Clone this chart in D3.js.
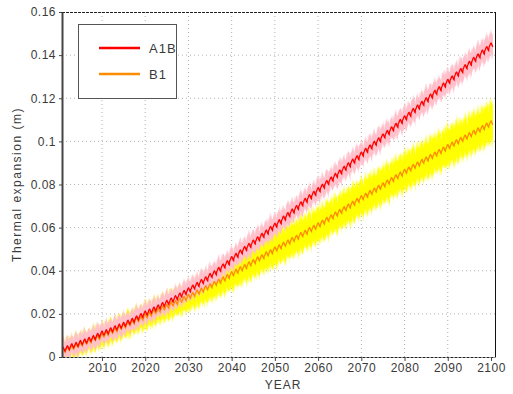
<!DOCTYPE html>
<html>
<head>
<meta charset="utf-8">
<script src="https://cdn.jsdelivr.net/npm/d3@7"></script>
<style>
  body { margin: 0; background: #fff; }
  text { font-family: "Liberation Sans", Arial, sans-serif; fill: #3a3a3a; letter-spacing: 0.5px; }
</style>
</head>
<body>
<div id="chart"></div>
<script>
// first year of the yearly series
var firstYear = 2001

// yearly mean thermal expansion (m)
var a1bMean = [
  0.0035,0.0042,0.0051,0.0057,0.0066,0.0073,0.0081,0.0089,0.0099,0.0110,
  0.0116,0.0125,0.0134,0.0142,0.0150,0.0160,0.0169,0.0180,0.0191,0.0203,
  0.0212,0.0221,0.0231,0.0242,0.0252,0.0263,0.0274,0.0286,0.0298,0.0310,
  0.0323,0.0335,0.0349,0.0361,0.0377,0.0389,0.0405,0.0421,0.0436,0.0455,
  0.0470,0.0486,0.0502,0.0516,0.0532,0.0547,0.0563,0.0578,0.0595,0.0610,
  0.0626,0.0643,0.0659,0.0676,0.0692,0.0709,0.0725,0.0742,0.0758,0.0775,
  0.0791,0.0808,0.0824,0.0841,0.0857,0.0874,0.0890,0.0907,0.0923,0.0940,
  0.0957,0.0973,0.0990,0.1006,0.1024,0.1040,0.1057,0.1073,0.1091,0.1108,
  0.1124,0.1142,0.1158,0.1175,0.1192,0.1209,0.1226,0.1243,0.1260,0.1277,
  0.1293,0.1311,0.1327,0.1345,0.1361,0.1379,0.1395,0.1413,0.1429,0.1446
]
var b1Mean = [
  0.0030,0.0038,0.0044,0.0053,0.0059,0.0068,0.0074,0.0084,0.0090,0.0100,
  0.0108,0.0118,0.0125,0.0136,0.0143,0.0154,0.0161,0.0172,0.0179,0.0190,
  0.0198,0.0209,0.0216,0.0227,0.0234,0.0245,0.0252,0.0263,0.0270,0.0280,
  0.0289,0.0300,0.0309,0.0320,0.0329,0.0340,0.0350,0.0361,0.0372,0.0385,
  0.0396,0.0408,0.0418,0.0431,0.0441,0.0454,0.0464,0.0477,0.0487,0.0500,
  0.0510,0.0522,0.0532,0.0544,0.0554,0.0567,0.0577,0.0590,0.0600,0.0612,
  0.0624,0.0637,0.0649,0.0662,0.0674,0.0687,0.0699,0.0712,0.0725,0.0738,
  0.0749,0.0762,0.0773,0.0786,0.0797,0.0810,0.0822,0.0835,0.0847,0.0860,
  0.0871,0.0883,0.0894,0.0906,0.0917,0.0929,0.0940,0.0952,0.0963,0.0975,
  0.0986,0.0997,0.1008,0.1019,0.1030,0.1041,0.1052,0.1063,0.1074,0.1085
]

// yearly half-width of the ensemble band (m)
var a1bSpread = [
  0.0042,0.0045,0.0040,0.0047,0.0043,0.0046,0.0041,0.0044,0.0048,0.0042,
  0.0045,0.0041,0.0047,0.0043,0.0046,0.0040,0.0044,0.0047,0.0042,0.0045,
  0.0043,0.0047,0.0041,0.0045,0.0048,0.0042,0.0046,0.0043,0.0047,0.0044,
  0.0046,0.0042,0.0048,0.0044,0.0047,0.0043,0.0049,0.0045,0.0042,0.0047,
  0.0044,0.0048,0.0043,0.0050,0.0046,0.0049,0.0044,0.0047,0.0051,0.0045,
  0.0048,0.0044,0.0050,0.0046,0.0043,0.0049,0.0045,0.0048,0.0044,0.0050,
  0.0046,0.0049,0.0044,0.0048,0.0051,0.0045,0.0049,0.0046,0.0050,0.0047,
  0.0045,0.0050,0.0047,0.0051,0.0046,0.0049,0.0045,0.0052,0.0048,0.0050,
  0.0047,0.0051,0.0046,0.0049,0.0053,0.0048,0.0050,0.0046,0.0052,0.0049,
  0.0051,0.0047,0.0053,0.0049,0.0052,0.0048,0.0054,0.0050,0.0053,0.0051
]
var b1Spread = [
  0.0045,0.0048,0.0043,0.0050,0.0046,0.0049,0.0044,0.0051,0.0047,0.0050,
  0.0048,0.0053,0.0047,0.0052,0.0049,0.0055,0.0050,0.0054,0.0051,0.0056,
  0.0053,0.0057,0.0052,0.0058,0.0055,0.0060,0.0054,0.0059,0.0057,0.0061,
  0.0058,0.0063,0.0059,0.0064,0.0060,0.0066,0.0061,0.0065,0.0062,0.0067,
  0.0064,0.0069,0.0063,0.0070,0.0066,0.0071,0.0065,0.0072,0.0068,0.0073,
  0.0069,0.0074,0.0070,0.0073,0.0071,0.0075,0.0070,0.0076,0.0072,0.0075,
  0.0073,0.0077,0.0072,0.0078,0.0074,0.0077,0.0075,0.0079,0.0074,0.0078,
  0.0076,0.0080,0.0075,0.0079,0.0077,0.0081,0.0076,0.0080,0.0078,0.0082,
  0.0079,0.0083,0.0078,0.0082,0.0080,0.0084,0.0079,0.0083,0.0081,0.0085,
  0.0082,0.0086,0.0081,0.0085,0.0083,0.0087,0.0082,0.0086,0.0084,0.0088
]

// mean seasonal cycle (m) and monthly spread multipliers of the band edges
var season  = [-0.0009,-0.0007,-0.0003,0.0002,0.0006,0.0009,0.0010,0.0007,0.0002,-0.0003,-0.0006,-0.0008]
var spikeUp = [1.00,1.30,0.80,1.10,1.40,0.85,1.15,1.35,0.75,1.25,0.95,1.10]
var spikeDn = [1.10,0.85,1.35,0.95,1.15,1.40,0.80,1.05,1.30,0.90,1.25,1.00]

var xTicks = [2010,2020,2030,2040,2050,2060,2070,2080,2090,2100]
var yTicks = [0,0.02,0.04,0.06,0.08,0.1,0.12,0.14,0.16]

var W = 513, H = 394
var L = 62, R = 495, T = 12, B = 357

var x = d3.scaleLinear().domain([2000.75, 2100.93]).range([L, R])
var y = d3.scaleLinear().domain([0, 0.16]).range([B, T])

function monthly(mean, spread) {
  var out = []
  mean.forEach(function(v, i) {
    season.forEach(function(s, m) {
      // shift the multiplier lookup each year so the band edge does not repeat
      var up = spikeUp[(m + 5 * i) % 12], dn = spikeDn[(m + 7 * i) % 12]
      out.push({
        t: firstYear + i + (m - 5.5) / 12,
        v: v + s,
        lo: v + s - spread[i] * dn,
        hi: v + s + spread[i] * up
      })
    })
  })
  return out
}
var a1b = monthly(a1bMean, a1bSpread)
var b1 = monthly(b1Mean, b1Spread)

var svg = d3.select("#chart").append("svg").attr("width", W).attr("height", H)

svg.append("clipPath").attr("id", "clip")
  .append("rect").attr("x", L).attr("y", T).attr("width", R - L).attr("height", B - T)

// grid
var grid = svg.append("g").attr("stroke", "#b0b0b0").attr("stroke-dasharray", "1,3")
grid.selectAll(".gx").data(xTicks.slice(0, -1)).enter().append("line")
  .attr("x1", function(d) { return x(d) }).attr("x2", function(d) { return x(d) })
  .attr("y1", T).attr("y2", B)
grid.selectAll(".gy").data(yTicks.slice(1, -1)).enter().append("line")
  .attr("x1", L).attr("x2", R)
  .attr("y1", function(d) { return y(d) }).attr("y2", function(d) { return y(d) })

var band = d3.area().x(function(d) { return x(d.t) })
  .y0(function(d) { return y(d.lo) }).y1(function(d) { return y(d.hi) })
var line = d3.line().x(function(d) { return x(d.t) }).y(function(d) { return y(d.v) })

var plot = svg.append("g").attr("clip-path", "url(#clip)")
plot.append("path").datum(b1).attr("d", band).attr("fill", "#ffff00")
plot.append("path").datum(a1b).attr("d", band).attr("fill", "#ffc0cb")
plot.append("path").datum(b1).attr("d", line).attr("fill", "none").attr("stroke", "#ff8c00").attr("stroke-width", 1.3)
plot.append("path").datum(a1b).attr("d", line).attr("fill", "none").attr("stroke", "#ff0000").attr("stroke-width", 1.3)

// frame
svg.append("line").attr("x1", L).attr("x2", R).attr("y1", T + 0.5).attr("y2", T + 0.5)
  .attr("stroke", "#222").attr("stroke-dasharray", "3,1")
svg.append("line").attr("x1", R + 0.5).attr("x2", R + 0.5).attr("y1", T).attr("y2", B)
  .attr("stroke", "#111")

// axes
var yAxis = svg.append("g").attr("transform", "translate(" + L + ",0)")
  .call(d3.axisLeft(y).tickValues(yTicks).tickSize(3).tickSizeOuter(0)
    .tickFormat(function(d) { return String(+d.toFixed(2)) }))
var xAxis = svg.append("g").attr("transform", "translate(0," + B + ")")
  .call(d3.axisBottom(x).tickValues(xTicks).tickSize(4).tickSizeOuter(0).tickFormat(d3.format("d")))

yAxis.select(".domain").attr("stroke", "#444").attr("stroke-width", 2)
xAxis.select(".domain").attr("stroke", "#222").attr("stroke-dasharray", "3,1")
svg.selectAll(".tick line").attr("stroke", "#444")
svg.selectAll(".tick text").attr("font-size", 12).attr("font-family", null).attr("fill", "#3a3a3a")
yAxis.selectAll(".tick text").attr("x", -6)
xAxis.selectAll(".tick text").attr("y", 6)

svg.append("text").attr("x", 283).attr("y", 389).attr("text-anchor", "middle")
  .attr("font-size", 12).style("letter-spacing", "1px").text("YEAR")
svg.append("text").attr("transform", "translate(21," + ((T + B) / 2) + ") rotate(-90)")
  .attr("text-anchor", "middle").attr("font-size", 12).style("letter-spacing", "1.5px")
  .text("Thermal expansion (m)")

// legend
var series = ["A1B", "B1"]
var colors = ["#ff0000", "#ff8c00"]
var lg = svg.append("g")
lg.append("rect").attr("x", 78.5).attr("y", 24.5).attr("width", 98).attr("height", 74)
  .attr("fill", "#fff").attr("stroke", "#555")
var items = lg.selectAll(".item").data(series).enter().append("g")
  .attr("transform", function(d, i) { return "translate(0," + (48 + i * 26) + ")" })
items.append("line").attr("x1", 99).attr("x2", 140)
  .attr("stroke", function(d, i) { return colors[i] }).attr("stroke-width", 2.5)
items.append("text").attr("x", 149).attr("y", 5).attr("font-size", 13)
  .style("letter-spacing", "1px").text(function(d) { return d })
</script>
</body>
</html>
